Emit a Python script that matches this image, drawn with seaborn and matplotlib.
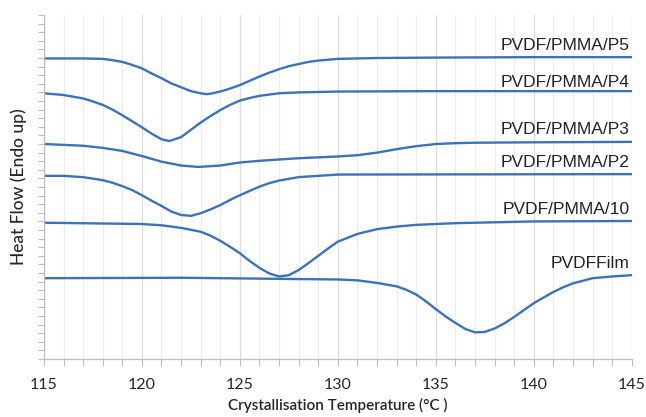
import pandas as pd
import matplotlib.pyplot as plt
import seaborn as sns
from matplotlib.ticker import MultipleLocator

# readings (arbitrary heat-flow units, endo up)
t_p5 = [115, 117, 118, 118.5, 119, 119.5, 120, 120.5, 121, 121.5, 122, 122.5, 123, 123.3, 123.5, 124, 124.5,
        125, 125.5, 126, 126.5, 127, 127.5, 128, 128.5, 129, 129.5, 130, 132, 135, 140, 145]
hf_p5 = [6.99, 6.99, 6.98, 6.95, 6.91, 6.84, 6.76, 6.64, 6.53, 6.41, 6.32, 6.23, 6.18, 6.16, 6.17, 6.22, 6.29,
         6.37, 6.47, 6.57, 6.66, 6.74, 6.81, 6.86, 6.91, 6.94, 6.96, 6.98, 7.00, 7.01, 7.02, 7.02]

t_p4 = [115, 116, 117, 117.5, 118, 118.5, 119, 119.5, 120, 120.5, 121, 121.4, 122, 122.5, 123, 123.5,
        124, 124.5, 125, 125.5, 126, 127, 128, 130, 135, 145]
hf_p4 = [6.18, 6.14, 6.06, 5.99, 5.91, 5.80, 5.67, 5.53, 5.39, 5.24, 5.11, 5.07, 5.16, 5.33, 5.50, 5.65,
         5.79, 5.91, 6.01, 6.07, 6.12, 6.18, 6.20, 6.22, 6.23, 6.23]

t_p3 = [115, 116, 117, 118, 119, 120, 121, 122, 122.8, 123, 124, 125, 126, 127, 128, 129, 130, 131, 132, 133,
        134, 135, 136, 137, 140, 145]
hf_p3 = [5.00, 4.98, 4.96, 4.91, 4.84, 4.72, 4.59, 4.50, 4.47, 4.47, 4.50, 4.57, 4.61, 4.64, 4.67, 4.69, 4.71,
         4.74, 4.80, 4.88, 4.95, 5.00, 5.02, 5.03, 5.04, 5.05]

t_p2 = [115, 116, 117, 118, 118.5, 119, 119.5, 120, 120.5, 121, 121.5, 122, 122.5, 123, 123.5, 124, 124.5,
        125, 125.5, 126, 126.5, 127, 127.5, 128, 129, 130, 145]
hf_p2 = [4.26, 4.26, 4.23, 4.16, 4.10, 4.02, 3.93, 3.81, 3.68, 3.56, 3.43, 3.35, 3.33, 3.39, 3.48, 3.58, 3.70,
         3.81, 3.91, 4.01, 4.09, 4.15, 4.19, 4.23, 4.26, 4.29, 4.30]

t_10 = [115, 120, 121, 122, 123, 123.5, 124, 124.5, 125, 125.5, 126, 126.5, 127, 127.5, 128, 128.5, 129, 129.5,
        130, 131, 132, 133, 134, 135, 136, 140, 145]
hf_10 = [3.17, 3.14, 3.11, 3.05, 2.96, 2.87, 2.75, 2.61, 2.46, 2.28, 2.12, 1.99, 1.92, 1.95, 2.07, 2.23, 2.40, 2.57,
         2.73, 2.91, 3.02, 3.08, 3.12, 3.14, 3.16, 3.20, 3.21]

t_film = [115, 122, 130, 131, 132, 133, 133.5, 134, 134.5, 135, 135.5, 136, 136.5, 137, 137.5, 138, 138.5, 139,
          139.5, 140, 140.5, 141, 141.5, 142, 143, 144, 145]
hf_film = [1.88, 1.89, 1.85, 1.83, 1.77, 1.69, 1.61, 1.50, 1.34, 1.16, 0.99, 0.84, 0.70, 0.62, 0.63, 0.71, 0.83,
           0.98, 1.14, 1.30, 1.43, 1.56, 1.67, 1.76, 1.88, 1.92, 1.95]

names = ["PVDF/PMMA/P5", "PVDF/PMMA/P4", "PVDF/PMMA/P3", "PVDF/PMMA/P2", "PVDF/PMMA/10", "PVDFFilm"]
label_y = [7.30, 6.42, 5.33, 4.56, 3.47, 2.23]

curves = [(t_p5, hf_p5), (t_p4, hf_p4), (t_p3, hf_p3), (t_p2, hf_p2), (t_10, hf_10), (t_film, hf_film)]
df = pd.concat([pd.DataFrame({"temp": t, "hf": h, "sample": n}) for (t, h), n in zip(curves, names)],
               ignore_index=True)

sns.set_style("white")
plt.rcParams["font.family"] = ["Liberation Sans", "DejaVu Sans"]

fig = plt.figure(figsize=(6.46, 4.17), dpi=100)
ax = fig.add_axes([0.068, 0.139, 0.910, 0.825])

line_col = "#3b73b9"
sns.lineplot(data=df, x="temp", y="hf", hue="sample", units="sample", estimator=None, sort=False,
             palette=[line_col] * len(names), linewidth=1.7, legend=False, ax=ax)

for n, ly in zip(names, label_y):
    ax.text(144.9, ly, n, ha="right", va="center", fontsize=12.5, color="#222222")

ax.set_xlim(115, 145)
ax.set_ylim(0, 8)
ax.xaxis.set_major_locator(MultipleLocator(5))
ax.xaxis.set_minor_locator(MultipleLocator(1))
ax.yaxis.set_major_locator(MultipleLocator(1))
ax.yaxis.set_minor_locator(MultipleLocator(0.2))
ax.set_yticklabels([])
ax.grid(True, axis="x", which="minor", color="#ececec", linewidth=0.8)
ax.grid(True, axis="x", which="major", color="#dcdcdc", linewidth=0.9)
ax.grid(False, axis="y")
ax.set_axisbelow(True)

for side in ["top", "right"]:
    ax.spines[side].set_visible(False)
for side in ["left", "bottom"]:
    ax.spines[side].set_color("#bdbdbd")
    ax.spines[side].set_linewidth(0.9)

ax.tick_params(axis="x", which="both", bottom=True, direction="out", length=5, color="#bdbdbd", width=0.8,
               labelsize=11.5, pad=9)
ax.tick_params(axis="y", which="both", left=True, direction="out", length=4, color="#bdbdbd", width=0.8)
for lbl in ax.get_xticklabels():
    lbl.set_family(["Lato", "DejaVu Sans"])

ax.set_xlabel("Crystallisation Temperature (°C )", fontsize=11, family=["Lato", "DejaVu Sans"],
              fontweight="semibold", labelpad=4)
ax.set_ylabel("Heat Flow (Endo up)", fontsize=12.5, family=["Lato", "DejaVu Sans"],
              fontweight="medium", labelpad=5)

fig.savefig("out.png", dpi=100)
